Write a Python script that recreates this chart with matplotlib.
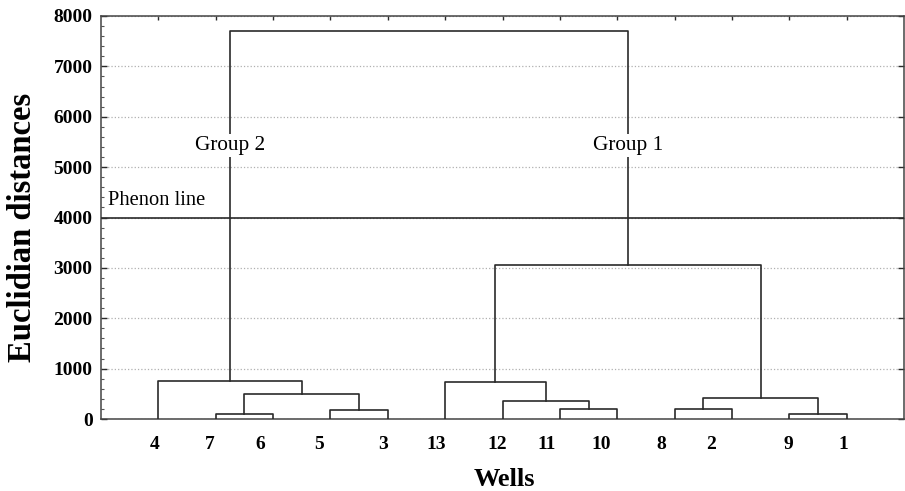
import matplotlib
matplotlib.use('Agg')
from matplotlib import pyplot as plt
from matplotlib.ticker import MultipleLocator

plt.rcParams['font.family'] = ['Liberation Serif', 'DejaVu Serif']

# 잎 순서 (왼쪽 -> 오른쪽)
leaves = ['4', '7', '6', '5', '3', '13', '12', '11', '10', '8', '2', '9', '1']
# 라벨이 찍힌 위치 (원본 그림에서 조금씩 어긋나 있음)
label_x = [0.94, 1.90, 2.77, 3.81, 4.91, 5.85, 6.91, 7.77, 8.72, 9.77, 10.64, 11.98, 12.95]
# 병합: (왼쪽, 오른쪽, 거리) -> 새 클러스터 이름은 c0, c1, ...
merges = [
    ('7', '6', 100),
    ('5', '3', 185),
    ('c0', 'c1', 495),
    ('4', 'c2', 760),
    ('11', '10', 200),
    ('12', 'c4', 357),
    ('13', 'c5', 740),
    ('8', '2', 200),
    ('9', '1', 90),
    ('c7', 'c8', 420),
    ('c6', 'c9', 3050),
    ('c3', 'c10', 7700),
]
phenon = 4000
group_names = {'c3': 'Group 2', 'c10': 'Group 1'}

fig = plt.figure(figsize=(9.05, 4.91), dpi=100)
ax = fig.add_axes([101 / 905, 1 - 419 / 491, 803 / 905, 403 / 491])

line_c = '#2a2a2a'

# 클러스터 좌표 계산 + 덴드로그램 그리기
pos = {name: (i + 1, 0) for i, name in enumerate(leaves)}
for k, (a, b, h) in enumerate(merges):
    xa, ya = pos[a]
    xb, yb = pos[b]
    ax.plot([xa, xa, xb, xb], [ya, h, h, yb], color=line_c, lw=1.2, zorder=3)
    pos['c%d' % k] = ((xa + xb) / 2, h)

# 페논 라인
ax.axhline(phenon, color=line_c, lw=1.2, zorder=3)
ax.text(0.12, phenon + 150, 'Phenon line', fontsize=14.8, ha='left', va='bottom', zorder=5)

# 그룹 라벨 (세로선 위에 흰 배경)
for c, txt in group_names.items():
    ax.text(pos[c][0], 5430, txt, fontsize=15.3, ha='center', va='center', zorder=5,
            bbox=dict(facecolor='white', edgecolor='none', pad=1.5))

ax.set_xlim(0, 14)
ax.set_ylim(0, 8000)

# y축
ax.yaxis.set_major_locator(MultipleLocator(1000))
ax.yaxis.set_minor_locator(MultipleLocator(200))
ax.tick_params(axis='y', which='major', direction='in', left=True, right=True,
               length=4, width=1, color=line_c, labelsize=14, pad=6)
ax.tick_params(axis='y', which='minor', direction='in', left=True, right=False,
               length=2.5, width=0.8, color='#555555')
for t in ax.get_yticklabels():
    t.set_fontweight('bold')

# x축: 라벨은 아래, 눈금은 위쪽만
ax.set_xticks(label_x)
ax.set_xticklabels(leaves, fontsize=14, fontweight='bold')
ax.tick_params(axis='x', which='major', bottom=False, top=False, pad=9)
ax.set_xticks(range(1, len(leaves) + 1), minor=True)
ax.tick_params(axis='x', which='minor', bottom=False, top=True, direction='in',
               length=3, width=1, color=line_c)

ax.yaxis.grid(True, linestyle=':', color='#b0b0b0', lw=0.9, zorder=0)
ax.set_axisbelow(True)
for s in ax.spines.values():
    s.set_color('#444444')
    s.set_linewidth(1.1)

fig.text(23 / 905, 1 - 227 / 491, 'Euclidian distances', rotation=90, fontsize=23.5,
         fontweight='bold', ha='center', va='center')
fig.text(504 / 905, 1 - 480 / 491, 'Wells', fontsize=19, fontweight='bold',
         ha='center', va='center')

fig.savefig('out.png', dpi=100)
